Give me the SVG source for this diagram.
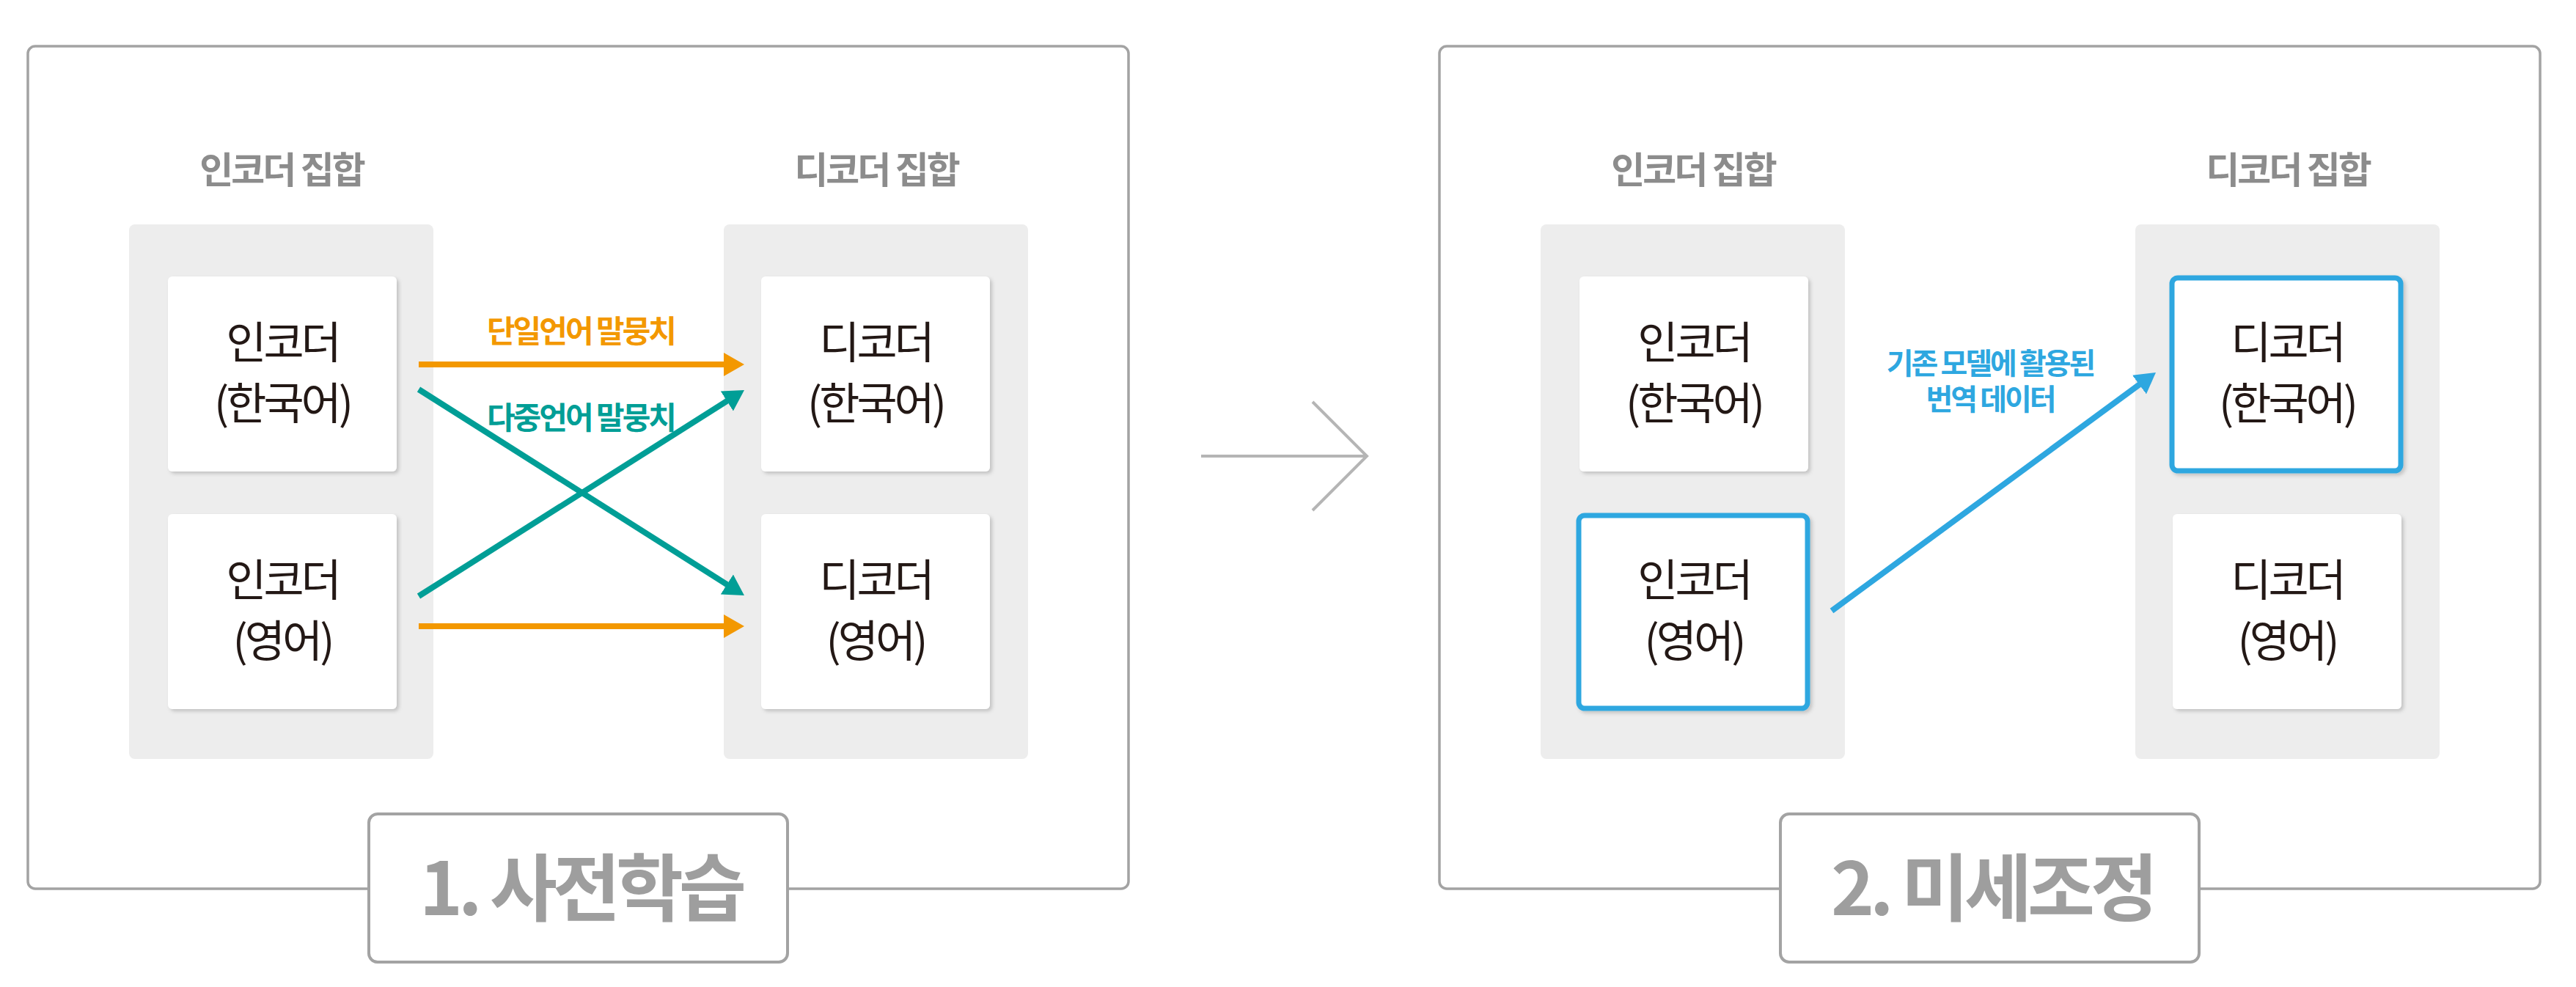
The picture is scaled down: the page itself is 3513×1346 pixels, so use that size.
<svg xmlns="http://www.w3.org/2000/svg" width="3513" height="1346" viewBox="0 0 3513 1346">
<style>
.frame{fill:#fff;stroke:#a3a3a3;stroke-width:3.5}
.col{fill:#ededed}
.box{fill:#fff}
.hl{fill:#fff;stroke:#2ea7e0;stroke-width:7}
.t{font-family:"Noto Sans CJK KR","Noto Sans",sans-serif;text-anchor:middle}
.node{font-size:60px;fill:#231815;letter-spacing:-4px}
.colt{font-size:50px;font-weight:bold;fill:#8c8c8c;letter-spacing:-3px}
.lab{font-size:42px;font-weight:bold;letter-spacing:-3px}
.blab{font-size:40px;font-weight:bold;fill:#2ea7e0;letter-spacing:-3px}
.title{font-size:100px;font-weight:bold;fill:#9e9e9e;letter-spacing:-6px}
.tbox{fill:#fff;stroke:#a3a3a3;stroke-width:4}
</style>
<defs>
<filter id="sh" x="-10%" y="-10%" width="130%" height="130%">
<feDropShadow dx="3" dy="3" stdDeviation="2.5" flood-color="#000" flood-opacity="0.18"/>
</filter>
<marker id="aO" markerUnits="userSpaceOnUse" markerWidth="30" markerHeight="34" refX="8" refY="16" orient="auto"><path d="M0,0 L28,16 L0,32 z" fill="#f39800"/></marker>
<marker id="aT" markerUnits="userSpaceOnUse" markerWidth="30" markerHeight="34" refX="8" refY="16" orient="auto"><path d="M0,0 L28,16 L0,32 z" fill="#009e96"/></marker>
<marker id="aB" markerUnits="userSpaceOnUse" markerWidth="30" markerHeight="34" refX="8" refY="16" orient="auto"><path d="M0,0 L28,16 L0,32 z" fill="#2ea7e0"/></marker>
</defs>
<rect width="3513" height="1346" fill="#fff"/>

<g id="frame1"><rect class="frame" x="38" y="63" width="1501" height="1149" rx="10"/></g>
<g id="frame2"><rect class="frame" x="1963" y="63" width="1501" height="1149" rx="10"/></g>

<g id="big-arrow"><path d="M1638,622 H1864 M1790,548 L1864,622 L1790,696" fill="none" stroke="#b5b5b5" stroke-width="4"/></g>

<!-- Left: pretraining -->
<g id="enc-set-1">
<text class="t colt" x="384" y="250">인코더 집합</text>
<rect class="col" x="176" y="306" width="415" height="729" rx="8"/>
</g>
<g id="dec-set-1">
<text class="t colt" x="1195" y="250">디코더 집합</text>
<rect class="col" x="987" y="306" width="415" height="729" rx="8"/>
</g>
<g id="enc-ko-1">
<rect class="box" x="229" y="377" width="312" height="266" rx="6" filter="url(#sh)"/>
<text class="t node" x="385" y="489">인코더</text>
<text class="t node" x="385" y="572">(한국어)</text>
</g>
<g id="enc-en-1">
<rect class="box" x="229" y="701" width="312" height="266" rx="6" filter="url(#sh)"/>
<text class="t node" x="385" y="813">인코더</text>
<text class="t node" x="385" y="896">(영어)</text>
</g>
<g id="dec-ko-1">
<rect class="box" x="1038" y="377" width="312" height="266" rx="6" filter="url(#sh)"/>
<text class="t node" x="1194" y="489">디코더</text>
<text class="t node" x="1194" y="572">(한국어)</text>
</g>
<g id="dec-en-1">
<rect class="box" x="1038" y="701" width="312" height="266" rx="6" filter="url(#sh)"/>
<text class="t node" x="1194" y="813">디코더</text>
<text class="t node" x="1194" y="896">(영어)</text>
</g>

<!-- Right: fine-tuning -->
<g id="enc-set-2">
<text class="t colt" x="2309" y="250">인코더 집합</text>
<rect class="col" x="2101" y="306" width="415" height="729" rx="8"/>
</g>
<g id="dec-set-2">
<text class="t colt" x="3120" y="250">디코더 집합</text>
<rect class="col" x="2912" y="306" width="415" height="729" rx="8"/>
</g>
<g id="enc-ko-2">
<rect class="box" x="2154" y="377" width="312" height="266" rx="6" filter="url(#sh)"/>
<text class="t node" x="2310" y="489">인코더</text>
<text class="t node" x="2310" y="572">(한국어)</text>
</g>
<g id="enc-en-2">
<rect class="hl" x="2153" y="703" width="312" height="263" rx="8" filter="url(#sh)"/>
<text class="t node" x="2310" y="813">인코더</text>
<text class="t node" x="2310" y="896">(영어)</text>
</g>
<g id="dec-ko-2">
<rect class="hl" x="2962" y="379" width="312" height="263" rx="8" filter="url(#sh)"/>
<text class="t node" x="3119" y="489">디코더</text>
<text class="t node" x="3119" y="572">(한국어)</text>
</g>
<g id="dec-en-2">
<rect class="box" x="2963" y="701" width="312" height="266" rx="6" filter="url(#sh)"/>
<text class="t node" x="3119" y="813">디코더</text>
<text class="t node" x="3119" y="896">(영어)</text>
</g>

<g id="connectors" fill="none" stroke-width="8">
<line x1="571" y1="497" x2="995" y2="497" stroke="#f39800" marker-end="url(#aO)"/>
<line x1="571" y1="854" x2="995" y2="854" stroke="#f39800" marker-end="url(#aO)"/>
<line x1="571" y1="531" x2="998.1" y2="801.3" stroke="#009e96" marker-end="url(#aT)"/>
<line x1="571" y1="813" x2="998.1" y2="542.7" stroke="#009e96" marker-end="url(#aT)"/>
<line x1="2498" y1="833" x2="2923.9" y2="519.8" stroke="#2ea7e0" marker-end="url(#aB)"/>
</g>

<g id="edge-labels">
<text class="t lab" x="792" y="467" fill="#f39800">단일언어 말뭉치</text>
<text class="t lab" x="792" y="585" fill="#009e96">다중언어 말뭉치</text>
<text class="t blab" x="2714" y="510">기존 모델에 활용된</text>
<text class="t blab" x="2714" y="559">번역 데이터</text>
</g>

<g id="title1">
<rect class="tbox" x="503" y="1110" width="571" height="202" rx="12"/>
<text class="t title" x="792" y="1248">1. 사전학습</text>
</g>
<g id="title2">
<rect class="tbox" x="2428" y="1110" width="571" height="202" rx="12"/>
<text class="t title" x="2717" y="1248">2. 미세조정</text>
</g>
</svg>
